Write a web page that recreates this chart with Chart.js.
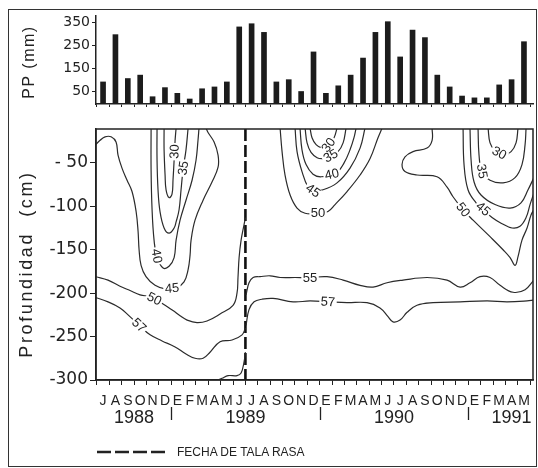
<!DOCTYPE html>
<html><head><meta charset="utf-8">
<script src="https://cdn.jsdelivr.net/npm/chart.js@4/dist/chart.umd.min.js"></script>
<style>
html,body{margin:0;padding:0;background:#fff;}
#wrap{position:relative;width:538px;height:468px;overflow:hidden;background:#fff;}
canvas{position:absolute;left:0;top:0;}
#frame{position:absolute;left:8px;top:9px;width:529px;height:458px;border:1.5px solid #333;box-sizing:border-box;}
.ytitle{position:absolute;font-family:"Liberation Sans",Arial,sans-serif;color:#222;white-space:pre;transform:translate(-50%,-50%) rotate(-90deg);}
#legend{position:absolute;left:97px;top:445px;height:14px;font-family:"Liberation Sans",Arial,sans-serif;font-size:12px;color:#222;display:flex;align-items:center;}
</style></head>
<body><div id="wrap">
<div id="frame"></div>
<canvas id="pp" width="538" height="468"></canvas>
<canvas id="ct" width="538" height="468"></canvas>
<div class="ytitle" style="left:29px;top:62px;font-size:16px;letter-spacing:1.5px">PP (mm)</div>
<div class="ytitle" style="left:26px;top:264px;font-size:18px;letter-spacing:2.6px">Profundidad  (cm)</div>
<div id="legend"><svg width="68" height="14"><line x1="0" y1="7" x2="68" y2="7" stroke="#222" stroke-width="2.5" stroke-dasharray="14 4"/></svg><span style="margin-left:12px">FECHA DE TALA RASA</span></div>
</div>
<script>
// ---------- data ----------
const MONTH_LETTERS = ['J','A','S','O','N','D','E','F','M','A','M','J','J','A','S','O','N','D','E','F','M','A','M','J','J','A','S','O','N','D','E','F','M','A','M'];
const MONTH_INDEX = MONTH_LETTERS.map((_, i) => i);
const PP_MM = [90,298,105,120,25,65,40,15,60,68,90,332,346,308,90,100,48,222,40,73,120,195,308,355,200,318,285,120,68,28,20,20,77,100,267];
const PP_TICKS = [50,150,250,350];
const DEPTH_TICKS = [-50,-100,-150,-200,-250,-300];
const YEARS = ['1988','1989','1990','1991'];
const YEAR_CENTERS = [2.5, 11.5, 23.5, 33.0];
const YEAR_BREAKS = [5.5, 17.5, 29.5];
const CLEARCUT_MONTH = 11.5;

const X_MIN = -0.57, X_MAX = 34.73;
const PP_MIN = -7, PP_MAX = 380;
const DEPTH_MIN = -300, DEPTH_MAX = -11;

// contour lines: [month index, depth cm]
const L30 = [[4.93,-10],[4.93,-35],[5.01,-64],[5.09,-81],[5.33,-90],[5.57,-86],[5.65,-70],[5.74,-47],[5.82,-24],[5.90,-10]];
const L35 = [[4.36,-10],[4.36,-46],[4.44,-81],[4.60,-106],[4.93,-125],[5.33,-131],[5.74,-125],[5.90,-118],[6.14,-104],[6.30,-81],[6.46,-58],[6.70,-35],[6.87,-10]];
const L40 = [[3.88,-10],[3.88,-58],[3.96,-104],[4.12,-139],[4.36,-159],[4.85,-171],[5.33,-169],[5.74,-159],[5.90,-139],[6.22,-116],[6.70,-93],[7.19,-70],[7.51,-47],[7.67,-24],[7.75,-10]];
const L45 = [[-0.6,-29],[-0.24,-24],[0.16,-20],[0.65,-20],[1.05,-26],[1.21,-41],[1.53,-56],[1.94,-70],[2.34,-83],[2.67,-106],[2.83,-129],[2.91,-150],[3.07,-168],[3.47,-181],[4.20,-191],[5.01,-195],[5.90,-194],[6.54,-187],[6.87,-173],[7.03,-156],[7.11,-139],[7.43,-116],[8.08,-93],[8.80,-72],[9.29,-55],[9.29,-41],[8.97,-26],[8.48,-15],[8.32,-10]];
const L50 = [[-0.6,-181],[0.40,-185],[1.37,-192],[2.18,-197],[2.99,-202],[3.80,-204],[4.36,-208],[5.01,-214],[5.65,-220],[6.22,-226],[6.79,-231],[7.59,-234],[8.40,-232],[9.45,-224],[10.50,-214],[10.82,-200],[10.90,-182],[10.99,-159],[11.15,-139],[11.39,-121],[11.5,-113]];
const L57 = [[-0.6,-205],[0.40,-210],[1.37,-217],[2.02,-225],[2.99,-238],[3.80,-248],[4.77,-255],[5.82,-262],[6.70,-270],[7.43,-275],[8.08,-275],[8.64,-268],[9.45,-256],[10.42,-254],[11.23,-248],[11.5,-240]];
const LB  = [[9.13,-301],[9.61,-298],[10.10,-295],[10.82,-295],[11.15,-292],[11.39,-279],[11.5,-268]];
const M30 = [[16.72,-10],[16.88,-21],[17.21,-29],[17.69,-33],[18.09,-32],[18.66,-21],[18.90,-10]];
const M35 = [[16.32,-10],[16.48,-27],[16.80,-38],[17.29,-44],[17.77,-45],[18.26,-43],[18.98,-37],[19.39,-27],[19.63,-10]];
const M40 = [[15.91,-10],[16.07,-35],[16.40,-52],[16.96,-63],[17.61,-66],[18.82,-62],[19.47,-50],[19.95,-35],[20.27,-21],[20.44,-10]];
const M45 = [[15.51,-10],[15.67,-37],[16.07,-60],[16.56,-78],[16.96,-82],[17.77,-81],[18.90,-73],[19.95,-56],[20.76,-33],[21.16,-10]];
const M50 = [[14.30,-10],[14.46,-37],[14.70,-64],[15.11,-87],[15.67,-102],[16.32,-108],[17.37,-108],[18.17,-106],[18.74,-98],[19.71,-83],[20.76,-64],[21.57,-45],[22.21,-21],[22.54,-10]];
const R30 = [[31.10,-10],[31.26,-27],[31.66,-36],[32.31,-41],[32.96,-37],[33.36,-27],[33.52,-10]];
const R35 = [[30.29,-10],[30.37,-41],[30.61,-60],[31.26,-70],[32.31,-73],[33.28,-67],[33.84,-52],[34.09,-29],[34.17,-10]];
const R40 = [[29.64,-10],[29.73,-47],[29.97,-72],[30.53,-87],[31.66,-98],[32.88,-102],[33.76,-96],[34.33,-81],[34.8,-67]];
const R45 = [[29.08,-10],[29.16,-52],[29.48,-81],[30.13,-96],[30.70,-103],[31.42,-113],[32.23,-120],[33.04,-125],[33.68,-123],[34.17,-113],[34.49,-98],[34.8,-85]];
const R50 = [[26.58,-10],[26.58,-24],[26.17,-33],[25.04,-37],[24.39,-43],[24.15,-52],[24.39,-60],[25.36,-64],[26.98,-66],[27.79,-78],[28.27,-89],[29.08,-104],[29.89,-116],[31.26,-135],[32.31,-150],[32.88,-159],[33.28,-168],[33.52,-158],[33.84,-139],[34.25,-125],[34.57,-110],[34.8,-104]];
const R55 = [[11.55,-202],[11.79,-188],[12.12,-182],[12.68,-181],[13.49,-180],[14.30,-182],[15.51,-182],[16.72,-182],[18.09,-181],[19.39,-185],[20.76,-191],[21.81,-193],[22.94,-188],[24.23,-185],[26.17,-182],[27.79,-185],[28.84,-193],[29.64,-188],[30.45,-181],[31.26,-182],[32.07,-191],[33.12,-199],[34.09,-196],[34.8,-185]];
const R57 = [[11.55,-237],[11.79,-219],[12.20,-210],[12.84,-207],[13.73,-206],[15.35,-210],[16.72,-209],[18.17,-210],[19.71,-211],[21.32,-211],[22.37,-217],[23.02,-227],[23.42,-233],[23.99,-231],[24.56,-222],[25.36,-214],[26.66,-211],[28.84,-210],[31.02,-209],[32.63,-210],[34.25,-209],[34.8,-208]];

// contour labels: [line, text, month, depth]
const CONTOUR_LABELS = [
  [L30,'30',5.65,-37],[L35,'35',6.46,-56],[L40,'40',4.45,-157],[L45,'45',5.57,-194],[L50,'50',4.20,-205],[L57,'57',2.91,-237],
  [M30,'30',18.26,-30],[M35,'35',18.42,-43],[M40,'40',18.5,-64],[M45,'45',16.96,-82],[M50,'50',17.37,-108],
  [R30,'30',31.99,-39],[R35,'35',30.45,-60],[R45,'45',30.70,-103],[R50,'50',29.08,-104],
  [R55,'55',16.72,-182],[R57,'57',18.17,-210]
];
const CONTOUR_LINES = [L30,L35,L40,L45,L50,L57,LB,M30,M35,M40,M45,M50,R30,R35,R40,R45,R50,R55,R57];

const MONTH_EDGES = [...MONTH_INDEX.map(i => i - 0.5), MONTH_INDEX.length - 0.5];
const INK = '#222';

// ---------- top chart: precipitation ----------
new Chart(document.getElementById('pp'), {
  type: 'bar',
  data: { datasets: [{
    data: MONTH_INDEX.map((m, i) => ({ x: m, y: PP_MM[i] })),
    backgroundColor: '#1c1c1c', barThickness: 5, base: PP_MIN
  }]},
  options: {
    responsive: false, animation: false, events: [],
    layout: { padding: { left: 0, right: 5, top: 16, bottom: 354 } },
    plugins: { legend: { display: false }, tooltip: { enabled: false } },
    scales: {
      x: { type: 'linear', min: X_MIN, max: X_MAX, offset: false,
           afterBuildTicks: s => { s.ticks = MONTH_EDGES.map(v => ({ value: v })); },
           afterFit: s => { s.height = 10; },
           ticks: { display: false },
           grid: { offset: false, drawOnChartArea: false, tickLength: 3, color: INK },
           border: { color: INK, width: 1.5 } },
      y: { type: 'linear', min: PP_MIN, max: PP_MAX,
           afterBuildTicks: s => { s.ticks = PP_TICKS.map(v => ({ value: v })); },
           afterFit: s => { s.width = 96; },
           ticks: { font: { family: 'DejaVu Sans', size: 14 }, color: INK, padding: 2 },
           grid: { drawOnChartArea: false, tickLength: 4, color: INK },
           border: { color: INK, width: 1.5 } }
    }
  }
});

// ---------- bottom chart: soil moisture contours ----------
function toPx(chart, p) {
  return [chart.scales.x.getPixelForValue(p[0]), chart.scales.y.getPixelForValue(p[1])];
}
const labelPlugin = {
  id: 'contourLabels',
  afterDatasetsDraw(chart) {
    const ctx = chart.ctx;
    ctx.save();
    ctx.font = '13px "Liberation Sans Narrow", "Liberation Sans", Arial, sans-serif';
    ctx.textAlign = 'center'; ctx.textBaseline = 'middle';
    CONTOUR_LABELS.forEach(([line, text, m, d]) => {
      const [tx, ty] = toPx(chart, [m, d]);
      let best = null;
      for (let k = 0; k < line.length - 1; k++) {
        const [ax, ay] = toPx(chart, line[k]);
        const [bx, by] = toPx(chart, line[k + 1]);
        const dx = bx - ax, dy = by - ay, L2 = dx * dx + dy * dy || 1;
        let t = ((tx - ax) * dx + (ty - ay) * dy) / L2;
        t = Math.max(0, Math.min(1, t));
        const qx = ax + t * dx, qy = ay + t * dy;
        const dist = (qx - tx) ** 2 + (qy - ty) ** 2;
        if (!best || dist < best.dist) best = { dist, qx, qy, ang: Math.atan2(dy, dx) };
      }
      let a = best.ang;
      if (a > Math.PI / 2) a -= Math.PI;
      if (a < -Math.PI / 2) a += Math.PI;
      ctx.save();
      ctx.translate(best.qx, best.qy); ctx.rotate(a);
      const w = ctx.measureText(text).width + 3;
      ctx.fillStyle = '#fff'; ctx.fillRect(-w / 2, -5, w, 10);
      ctx.fillStyle = INK; ctx.fillText(text, 0, 0.5);
      ctx.restore();
    });
    ctx.restore();
  }
};
const axisTextPlugin = {
  id: 'axisText',
  afterDraw(chart) {
    const { ctx, chartArea: a, scales: { x } } = chart;
    ctx.save();
    ctx.strokeStyle = INK; ctx.lineWidth = 1.5;
    ctx.strokeRect(a.left, a.top, a.right - a.left, a.bottom - a.top);
    ctx.fillStyle = INK; ctx.textAlign = 'center'; ctx.textBaseline = 'middle';
    ctx.font = '14px "Liberation Sans", Arial, sans-serif';
    MONTH_LETTERS.forEach((t, i) => ctx.fillText(t, x.getPixelForValue(MONTH_INDEX[i]), a.bottom + 21));
    ctx.font = '18px "Liberation Sans", Arial, sans-serif';
    YEARS.forEach((t, i) => ctx.fillText(t, x.getPixelForValue(YEAR_CENTERS[i]), a.bottom + 38));
    ctx.lineWidth = 1.3;
    YEAR_BREAKS.forEach(v => {
      const xp = Math.round(x.getPixelForValue(v)) + 0.5;
      ctx.beginPath(); ctx.moveTo(xp, a.bottom + 27); ctx.lineTo(xp, a.bottom + 40); ctx.stroke();
    });
    ctx.restore();
  }
};

const contourSets = CONTOUR_LINES.map(line => ({
  data: line.map(p => ({ x: p[0], y: p[1] })),
  showLine: true, pointRadius: 0, borderColor: '#2b2b2b', borderWidth: 1.2, tension: 0.4, fill: false
}));
contourSets.push({
  data: [{ x: CLEARCUT_MONTH, y: DEPTH_MAX }, { x: CLEARCUT_MONTH, y: DEPTH_MIN }],
  showLine: true, pointRadius: 0, borderColor: '#111', borderWidth: 2.6, borderDash: [12, 4], tension: 0
});

new Chart(document.getElementById('ct'), {
  type: 'scatter',
  data: { datasets: contourSets },
  options: {
    responsive: false, animation: false, events: [],
    layout: { padding: { left: 0, right: 5, top: 129, bottom: 58 } },
    plugins: { legend: { display: false }, tooltip: { enabled: false } },
    scales: {
      x: { type: 'linear', min: X_MIN, max: X_MAX,
           afterBuildTicks: s => { s.ticks = MONTH_EDGES.map(v => ({ value: v })); },
           afterFit: s => { s.height = 30; },
           ticks: { display: false },
           grid: { drawOnChartArea: false, tickLength: 5, color: INK },
           border: { color: INK, width: 1.5 } },
      y: { type: 'linear', min: DEPTH_MIN, max: DEPTH_MAX,
           afterBuildTicks: s => { s.ticks = DEPTH_TICKS.map(v => ({ value: v })); },
           afterFit: s => { s.width = 96; },
           ticks: { font: { family: 'DejaVu Sans', size: 17 }, color: INK, padding: 2,
                    callback: v => (v > -100 ? '- ' + Math.abs(v) : String(v)) },
           grid: { drawOnChartArea: false, tickLength: 6, color: INK },
           border: { color: INK, width: 1.5 } }
    }
  },
  plugins: [labelPlugin, axisTextPlugin]
});
</script>
</body></html>
